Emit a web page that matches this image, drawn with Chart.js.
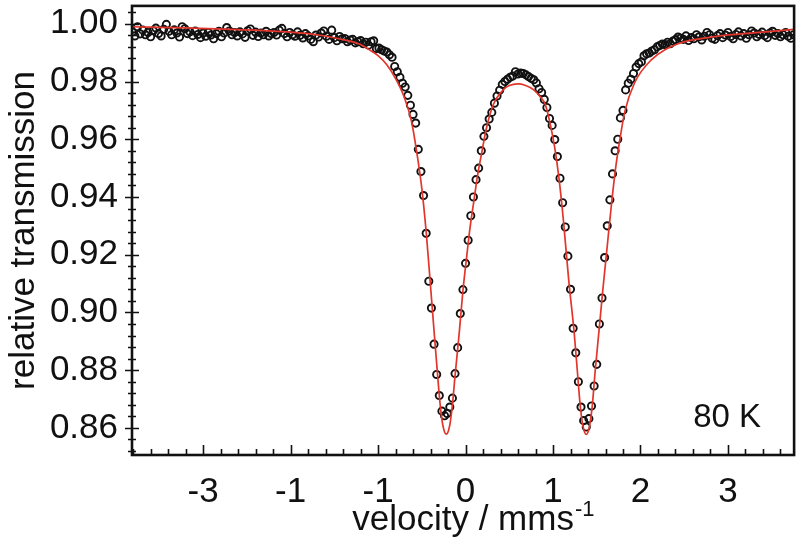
<!DOCTYPE html>
<html>
<head>
<meta charset="utf-8">
<script src="https://cdn.jsdelivr.net/npm/chart.js@4/dist/chart.umd.min.js"></script>
<style>
  body { margin: 0; background: #fff; }
  #wrap { width: 800px; height: 537px; }
</style>
</head>
<body>
<div id="wrap"><canvas id="moss" width="800" height="537"></canvas></div>
<script>
// measured spectrum, velocity in mm/s
const velocity = [
  -3.81,-3.78,-3.75,-3.72,-3.69,-3.66,-3.63,-3.60,-3.57,-3.54,
  -3.51,-3.48,-3.45,-3.42,-3.39,-3.36,-3.33,-3.30,-3.27,-3.24,
  -3.21,-3.18,-3.15,-3.12,-3.09,-3.06,-3.03,-3.00,-2.97,-2.94,
  -2.91,-2.88,-2.85,-2.82,-2.79,-2.76,-2.73,-2.70,-2.67,-2.64,
  -2.61,-2.58,-2.55,-2.52,-2.49,-2.46,-2.43,-2.40,-2.37,-2.34,
  -2.31,-2.28,-2.25,-2.22,-2.19,-2.16,-2.13,-2.10,-2.07,-2.04,
  -2.01,-1.98,-1.95,-1.92,-1.89,-1.86,-1.83,-1.80,-1.77,-1.74,
  -1.71,-1.68,-1.65,-1.62,-1.59,-1.56,-1.53,-1.50,-1.47,-1.44,
  -1.41,-1.38,-1.35,-1.32,-1.29,-1.26,-1.23,-1.20,-1.17,-1.14,
  -1.11,-1.08,-1.05,-1.02,-0.99,-0.96,-0.93,-0.90,-0.87,-0.84,
  -0.81,-0.78,-0.75,-0.72,-0.69,-0.66,-0.63,-0.60,-0.57,-0.54,
  -0.51,-0.48,-0.45,-0.42,-0.39,-0.36,-0.33,-0.30,-0.27,-0.24,
  -0.21,-0.18,-0.15,-0.12,-0.09,-0.06,-0.03,0.00,0.03,0.06,
  0.09,0.12,0.15,0.18,0.21,0.24,0.27,0.30,0.33,0.36,
  0.39,0.42,0.45,0.48,0.51,0.54,0.57,0.60,0.63,0.66,
  0.69,0.72,0.75,0.78,0.81,0.84,0.87,0.90,0.93,0.96,
  0.99,1.02,1.05,1.08,1.11,1.14,1.17,1.20,1.23,1.26,
  1.29,1.32,1.35,1.38,1.41,1.44,1.47,1.50,1.53,1.56,
  1.59,1.62,1.65,1.68,1.71,1.74,1.77,1.80,1.83,1.86,
  1.89,1.92,1.95,1.98,2.01,2.04,2.07,2.10,2.13,2.16,
  2.19,2.22,2.25,2.28,2.31,2.34,2.37,2.40,2.43,2.46,
  2.49,2.52,2.55,2.58,2.61,2.64,2.67,2.70,2.73,2.76,
  2.79,2.82,2.85,2.88,2.91,2.94,2.97,3.00,3.03,3.06,
  3.09,3.12,3.15,3.18,3.21,3.24,3.27,3.30,3.33,3.36,
  3.39,3.42,3.45,3.48,3.51,3.54,3.57,3.60,3.63,3.66,
  3.69,3.72,3.75
];
const transmission = [
  0.9972,0.9958,0.9990,0.9965,0.9978,0.9962,0.9970,0.9955,0.9976,0.9985,
  0.9966,0.9958,0.9981,0.9998,0.9974,0.9962,0.9979,0.9968,0.9954,0.9990,
  0.9983,0.9966,0.9972,0.9959,0.9975,0.9963,0.9952,0.9968,0.9957,0.9970,
  0.9961,0.9948,0.9966,0.9974,0.9955,0.9968,0.9987,0.9975,0.9962,0.9970,
  0.9958,0.9972,0.9965,0.9953,0.9976,0.9982,0.9960,0.9971,0.9956,0.9968,
  0.9962,0.9974,0.9958,0.9966,0.9970,0.9961,0.9978,0.9984,0.9966,0.9955,
  0.9970,0.9962,0.9957,0.9972,0.9960,0.9951,0.9966,0.9958,0.9946,0.9938,
  0.9961,0.9954,0.9968,0.9975,0.9957,0.9946,0.9978,0.9952,0.9941,0.9956,
  0.9948,0.9949,0.9938,0.9944,0.9946,0.9934,0.9938,0.9942,0.9931,0.9936,
  0.9926,0.9938,0.9941,0.9914,0.9916,0.9910,0.9906,0.9902,0.9893,0.9884,
  0.9852,0.9834,0.9815,0.9794,0.9781,0.9752,0.9718,0.9686,0.9656,0.9565,
  0.9488,0.9405,0.9274,0.9108,0.9015,0.8890,0.8785,0.8712,0.8658,0.8642,
  0.8650,0.8672,0.8703,0.8788,0.8878,0.8996,0.9079,0.9170,0.9250,0.9335,
  0.9400,0.9460,0.9500,0.9560,0.9610,0.9640,0.9670,0.9693,0.9725,0.9750,
  0.9770,0.9790,0.9800,0.9808,0.9815,0.9819,0.9834,0.9826,0.9829,0.9828,
  0.9823,0.9817,0.9811,0.9806,0.9795,0.9775,0.9762,0.9738,0.9710,0.9672,
  0.9648,0.9599,0.9540,0.9465,0.9380,0.9296,0.9195,0.9080,0.8945,0.8860,
  0.8760,0.8672,0.8625,0.8603,0.8632,0.8676,0.8745,0.8820,0.8960,0.9050,
  0.9190,0.9300,0.9390,0.9480,0.9560,0.9600,0.9674,0.9700,0.9771,0.9794,
  0.9808,0.9828,0.9850,0.9862,0.9868,0.9889,0.9896,0.9899,0.9906,0.9910,
  0.9920,0.9925,0.9930,0.9928,0.9936,0.9931,0.9940,0.9945,0.9954,0.9950,
  0.9946,0.9958,0.9942,0.9952,0.9948,0.9962,0.9955,0.9944,0.9957,0.9970,
  0.9962,0.9950,0.9946,0.9959,0.9966,0.9952,0.9961,0.9970,0.9956,0.9948,
  0.9963,0.9972,0.9958,0.9966,0.9950,0.9962,0.9975,0.9968,0.9955,0.9963,
  0.9971,0.9959,0.9952,0.9968,0.9974,0.9960,0.9966,0.9955,0.9962,0.9970,
  0.9957,0.9950,0.9962
];

// fitted curve (red)
const fitVelocity = [
  -3.84,-3.2,-2.6,-2.0,-1.7,-1.4,-1.2,-1.1,-1.0,-0.9,-0.8,-0.7,-0.62,-0.56,-0.50,-0.45,-0.40,-0.36,
  -0.32,-0.29,-0.26,-0.22,-0.18,-0.15,-0.12,-0.07,-0.03,0.01,0.05,0.09,0.14,0.18,0.24,0.32,0.43,
  0.50,0.60,0.68,0.78,0.86,0.91,0.97,1.02,1.07,1.12,1.18,1.24,1.28,1.31,1.34,1.38,1.42,1.45,1.48,
  1.53,1.57,1.62,1.67,1.72,1.77,1.82,1.93,2.12,2.43,2.81,3.39,3.84
];
const fitTransmission = [
  0.9990,0.9986,0.9980,0.9971,0.9962,0.9945,0.9928,0.9910,0.9890,0.9858,0.9810,0.9745,0.9665,0.9560,0.9430,0.9279,0.9090,0.8936,
  0.8785,0.8680,0.8610,0.8578,0.8610,0.8680,0.8780,0.8936,0.9075,0.9185,0.9290,0.9375,0.9480,0.9545,0.9640,0.9722,0.9771,
  0.9786,0.9792,0.9787,0.9771,0.9745,0.9722,0.9650,0.9570,0.9460,0.9315,0.9110,0.8936,0.8790,0.8680,0.8610,0.8577,0.8610,0.8680,0.8790,
  0.8950,0.9080,0.9230,0.9380,0.9510,0.9610,0.9695,0.9794,0.9874,0.9931,0.9954,0.9971,0.9983
];

const xTickValues = [-3, -2, -1, 0, 1, 2, 3];
const xTickLabels = ['-3', '-1', '-1', '0', '1', '2', '3'];
const yTickValues = [0.86, 0.88, 0.90, 0.92, 0.94, 0.96, 0.98, 1.00];

const FONT = 'Liberation Sans, Arial, Helvetica, sans-serif';
const INK = '#111';

const points = velocity.map((v, i) => ({ x: v, y: transmission[i] }));
const fit = fitVelocity.map((v, i) => ({ x: v, y: fitTransmission[i] }));

const framePlugin = {
  id: 'frame',
  afterDraw(chart) {
    const { ctx, chartArea: a, scales } = chart;
    const x = scales.x, y = scales.y;
    ctx.save();
    ctx.strokeStyle = INK;
    ctx.lineWidth = 1.6;
    ctx.beginPath();
    // y minor ticks, crossing the left axis
    for (let v = 0.852; v <= 1.005; v += 0.004) {
      const p = Math.round(y.getPixelForValue(v)) + 0.5;
      ctx.moveTo(a.left - 4, p); ctx.lineTo(a.left + 4, p);
    }
    yTickValues.forEach(v => {
      const p = Math.round(y.getPixelForValue(v)) + 0.5;
      ctx.moveTo(a.left - 7, p); ctx.lineTo(a.left + 7, p);
    });
    // x ticks, pointing up from the bottom axis
    for (let v = -3.8; v <= 3.75; v += 0.2) {
      const p = Math.round(x.getPixelForValue(v)) + 0.5;
      ctx.moveTo(p, a.bottom); ctx.lineTo(p, a.bottom - 6);
    }
    xTickValues.forEach(v => {
      const p = Math.round(x.getPixelForValue(v)) + 0.5;
      ctx.moveTo(p, a.bottom); ctx.lineTo(p, a.bottom - 10);
    });
    ctx.stroke();

    ctx.lineWidth = 2.6;
    ctx.strokeRect(a.left, a.top, a.right - a.left, a.bottom - a.top);

    // x axis title with superscript
    ctx.fillStyle = INK;
    ctx.textBaseline = 'alphabetic';
    ctx.textAlign = 'left';
    ctx.font = '35px ' + FONT;
    const main = 'velocity / mms';
    const w = ctx.measureText(main).width;
    const x0 = (a.left + a.right) / 2 - w / 2;
    ctx.fillText(main, x0, 530);
    ctx.font = '22px ' + FONT;
    ctx.fillText('-1', x0 + w + 1, 516);

    // temperature label
    ctx.font = '33px ' + FONT;
    ctx.textAlign = 'center';
    ctx.fillText('80 K', a.right - 67, a.bottom - 28);
    ctx.restore();
  }
};

new Chart(document.getElementById('moss'), {
  type: 'scatter',
  data: {
    datasets: [
      {
        label: 'fit',
        data: fit,
        showLine: true,
        borderColor: '#e2362c',
        borderWidth: 1.7,
        pointRadius: 0,
        cubicInterpolationMode: 'monotone',
        fill: false
      },
      {
        label: 'data',
        data: points,
        showLine: false,
        pointStyle: 'circle',
        pointRadius: 3.6,
        pointBorderWidth: 1.9,
        pointBorderColor: '#111',
        pointBackgroundColor: 'rgba(0,0,0,0)'
      }
    ]
  },
  options: {
    responsive: false,
    animation: false,
    layout: { padding: { top: 2, right: 5, left: 0, bottom: 0 } },
    plugins: { legend: { display: false }, tooltip: { enabled: false } },
    scales: {
      x: {
        type: 'linear',
        min: -3.813,
        max: 3.756,
        afterBuildTicks: s => { s.ticks = xTickValues.map(v => ({ value: v })); },
        afterFit: s => { s.height = 82; s.paddingLeft = 0; s.paddingRight = 0; },
        grid: { display: false, drawTicks: false },
        border: { display: false },
        ticks: {
          autoSkip: false,
          maxRotation: 0,
          padding: 16,
          color: INK,
          font: { family: FONT, size: 35 },
          callback: (v, i) => xTickLabels[i]
        }
      },
      y: {
        min: 0.8506,
        max: 1.0062,
        afterBuildTicks: s => { s.ticks = yTickValues.map(v => ({ value: v })); },
        afterFit: s => { s.width = 132; s.paddingTop = 0; s.paddingBottom = 0; },
        grid: { display: false, drawTicks: false },
        border: { display: false },
        ticks: {
          padding: 14,
          color: INK,
          font: { family: FONT, size: 35 },
          callback: v => v.toFixed(2)
        },
        title: {
          display: true,
          text: 'relative transmission',
          color: INK,
          font: { family: FONT, size: 35 },
          padding: { top: 3, bottom: 0 }
        }
      }
    }
  },
  plugins: [framePlugin]
});
</script>
</body>
</html>
